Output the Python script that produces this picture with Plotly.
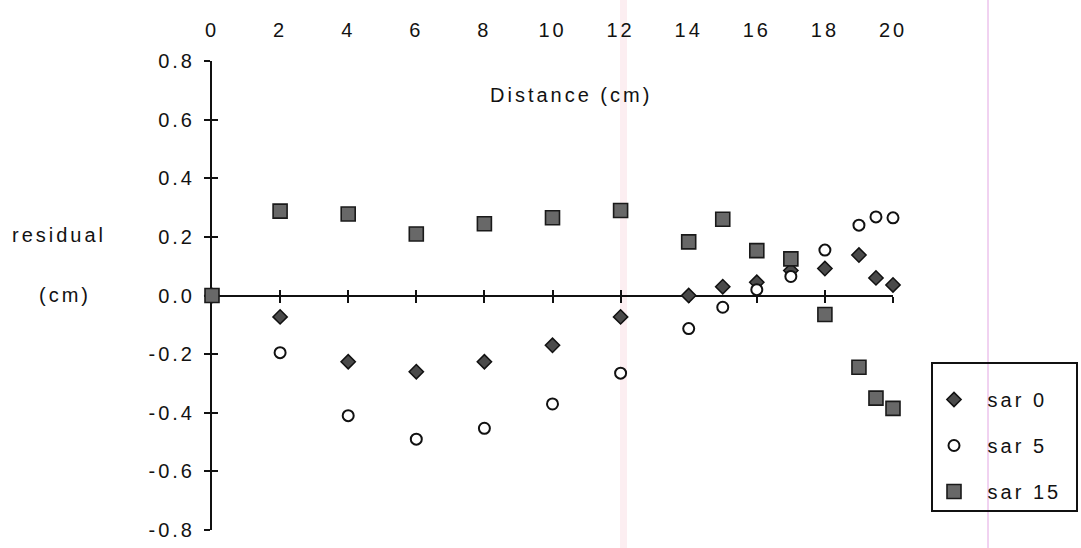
import plotly.graph_objects as go

# Residuals along the distance (cm) for three series
distance = [0, 2, 4, 6, 8, 10, 12, 14, 15, 16, 17, 18, 19, 19.5, 20]
sar0 = [0.0, -0.073, -0.226, -0.26, -0.226, -0.17, -0.073, 0.0, 0.03, 0.045, 0.085, 0.092, 0.138, 0.06, 0.036]
sar5 = [0.0, -0.195, -0.41, -0.49, -0.453, -0.37, -0.265, -0.113, -0.04, 0.02, 0.065, 0.155, 0.24, 0.268, 0.265]
sar15 = [0.0, 0.288, 0.278, 0.21, 0.245, 0.265, 0.29, 0.183, 0.26, 0.153, 0.125, -0.065, -0.245, -0.35, -0.385]

x_tick_vals = [0, 2, 4, 6, 8, 10, 12, 14, 16, 18, 20]
x_tick_text = ["0", "2", "4", "6", "8", "10", "12", "14", "16", "18", "20"]
y_tick_vals = [0.8, 0.6, 0.4, 0.2, 0.0, -0.2, -0.4, -0.6, -0.8]
y_tick_text = ["0.8", "0.6", "0.4", "0.2", "0.0", "-0.2", "-0.4", "-0.6", "-0.8"]
zero_tick_vals = [2, 4, 6, 8, 10, 12, 14, 16, 18, 20]

# page geometry (pixels)
FIG_W, FIG_H = 1081, 548
PLOT_L, PLOT_R, PLOT_T, PLOT_B = 212, 893, 61, 530


def px_x(px):
    return (px - PLOT_L) / (PLOT_R - PLOT_L)


def px_y(py):
    return (PLOT_B - py) / (PLOT_B - PLOT_T)


INK = "#111111"
FONT = dict(family="Liberation Sans, Arial, Helvetica, sans-serif", size=20, color=INK)

fig = go.Figure()

fig.add_trace(go.Scatter(
    x=distance, y=sar0, mode="markers", name=" sar 0", legendgroup="a",
    marker=dict(symbol="diamond", size=11, color="#4a4a4a", line=dict(color="#111", width=1.5)),
    cliponaxis=False,
))
fig.add_trace(go.Scatter(
    x=distance, y=sar5, mode="markers", name=" sar 5", legendgroup="b",
    marker=dict(symbol="circle", size=11, color="white", line=dict(color="#111", width=2)),
    cliponaxis=False,
))
fig.add_trace(go.Scatter(
    x=distance, y=sar15, mode="markers", name=" sar 15", legendgroup="c",
    marker=dict(symbol="square", size=14, color="#686868", line=dict(color="#1a1a1a", width=1.6)),
    cliponaxis=False,
))

# empty traces that carry the extra tick axes
for xa, ya in (("x2", "y"), ("x3", "y"), ("x", "y2")):
    fig.add_trace(go.Scatter(x=[], y=[], xaxis=xa, yaxis=ya, showlegend=False, hoverinfo="skip"))

tick_common = dict(tickcolor=INK, tickwidth=2, ticklen=6, showgrid=False, zeroline=False,
                   showline=False, showticklabels=False, layer="below traces")

fig.update_layout(
    width=FIG_W, height=FIG_H,
    margin=dict(l=PLOT_L, r=FIG_W - PLOT_R, t=PLOT_T, b=FIG_H - PLOT_B, autoexpand=False),
    paper_bgcolor="white", plot_bgcolor="white",
    font=FONT,
    showlegend=True,
    xaxis=dict(
        range=[0, 20], side="top", tickmode="array", tickvals=x_tick_vals, ticktext=x_tick_text,
        ticks="", showline=False, showgrid=False, zeroline=False, ticklabelstandoff=19,
        automargin=False,
    ),
    xaxis2=dict(range=[0, 20], overlaying="x", anchor="free", position=0.5, side="bottom",
                tickmode="array", tickvals=zero_tick_vals, ticks="outside", **tick_common),
    xaxis3=dict(range=[0, 20], overlaying="x", anchor="free", position=0.5, side="bottom",
                tickmode="array", tickvals=zero_tick_vals, ticks="inside", **tick_common),
    yaxis=dict(
        range=[-0.8, 0.8], tickmode="array", tickvals=y_tick_vals, ticktext=y_tick_text,
        ticks="outside", ticklen=6, tickwidth=2, tickcolor=INK,
        showline=True, linecolor=INK, linewidth=2, layer="below traces",
        showgrid=False, zeroline=True, zerolinecolor=INK, zerolinewidth=2,
        ticklabelstandoff=5, automargin=False,
    ),
    yaxis2=dict(range=[-0.8, 0.8], overlaying="y", anchor="x", side="left",
                tickmode="array", tickvals=y_tick_vals, ticks="inside", **tick_common),
    legend=dict(
        x=px_x(929), y=px_y(380), xanchor="left", yanchor="top",
        bgcolor="rgba(0,0,0,0)", borderwidth=0,
        itemwidth=40, tracegroupgap=17, traceorder="grouped",
    ),
    annotations=[
        dict(text="Distance (cm)", x=px_x(571), y=px_y(95), xref="paper", yref="paper",
             showarrow=False, xanchor="center", yanchor="middle"),
        dict(text="residual", x=px_x(59), y=px_y(235), xref="paper", yref="paper",
             showarrow=False, xanchor="center", yanchor="middle"),
        dict(text="(cm)", x=px_x(65), y=px_y(295), xref="paper", yref="paper",
             showarrow=False, xanchor="center", yanchor="middle"),
    ],
    shapes=[
        # faint scan streaks on the page
        dict(type="rect", xref="paper", yref="paper", x0=px_x(620), x1=px_x(627),
             y0=px_y(FIG_H), y1=px_y(0), line=dict(width=0), fillcolor="rgba(245,205,215,0.35)",
             layer="below"),
        dict(type="line", xref="paper", yref="paper", x0=px_x(988), x1=px_x(988),
             y0=px_y(FIG_H), y1=px_y(0), line=dict(color="rgba(215,130,215,0.7)", width=1),
             layer="below"),
        # legend frame
        dict(type="rect", xref="paper", yref="paper", x0=px_x(932), x1=px_x(1077),
             y0=px_y(511), y1=px_y(363), line=dict(color=INK, width=2), fillcolor="rgba(0,0,0,0)"),
    ],
)

# the lettering on this chart is widely tracked; redraw once the spacing is in place
# (a tiny colour change makes every text box get measured again)
spacing_js = """
var st = document.createElement('style');
st.textContent = 'svg text { letter-spacing: 3px !important; }';
document.head.appendChild(st);
var gd = document.getElementById('{plot_id}');
gd.layout.font.color = '#121212';
Plotly.newPlot(gd, gd.data, gd.layout, {responsive: true});
"""

fig.write_html("out.html", post_script=spacing_js)
